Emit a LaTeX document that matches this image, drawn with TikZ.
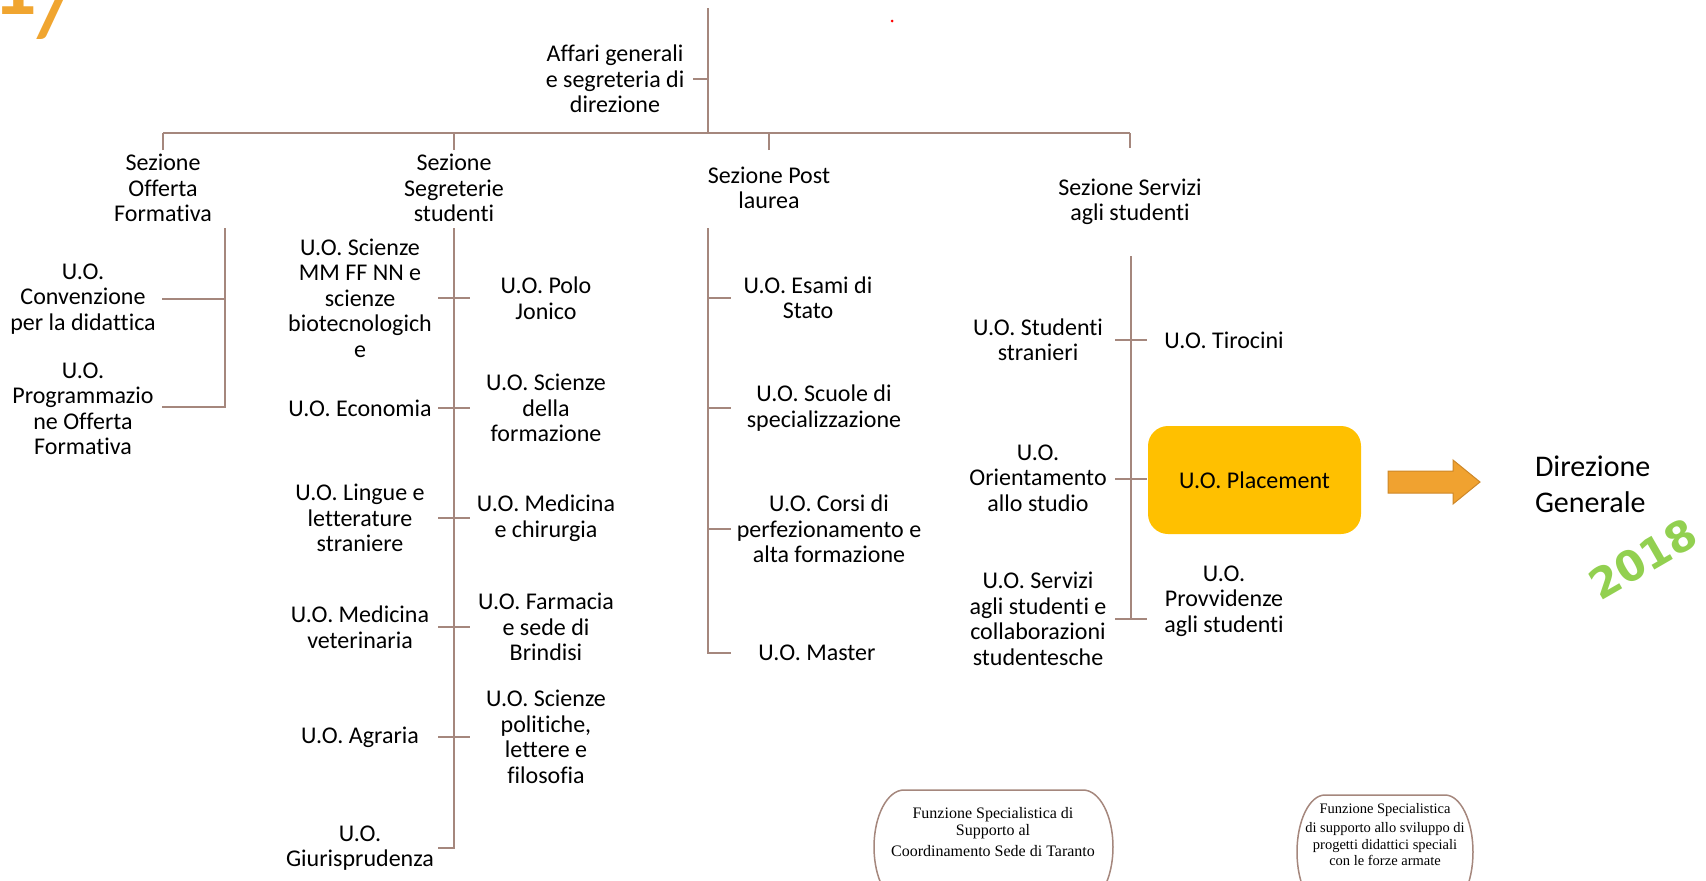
\documentclass[tikz,border=0pt]{standalone}
\usepackage{fontspec}
\setmainfont{Carlito}[Ligatures={NoCommon,NoRare}]
\newfontfamily\serifbox{Liberation Serif}
\newfontfamily\yearfont{DejaVu Sans}
\definecolor{linec}{RGB}{165,135,125}
\definecolor{placec}{RGB}{255,192,0}
\definecolor{arrowc}{RGB}{240,162,48}
\definecolor{arrowd}{RGB}{205,135,40}
\definecolor{greenc}{RGB}{146,208,80}
\definecolor{orangec}{RGB}{240,165,48}
\begin{document}
\begin{tikzpicture}[x=1pt,y=-1pt,
  every node/.style={inner sep=0pt,outer sep=0pt},
  lbl/.style={align=center,font=\fontsize{24}{25.5}\selectfont},
  conn/.style={draw=linec,line width=2pt},
  fsbox/.style={draw=linec,line width=1.5pt},
  fstext/.style={align=center,font=\serifbox\fontsize{16}{17}\selectfont}]
\useasboundingbox (0,0) rectangle (1706,881);
\clip (0,0) rectangle (1706,881);

% partial title at top-left
\node[anchor=base west,font=\bfseries\fontsize{88}{88}\selectfont,text=orangec] (ttl) at (-7,14) {1\raisebox{-0.24em}{/}};
\fill[red] (892,21) circle (1.5);

% top of the tree
\coordinate (top) at (708,8);
\coordinate (hub) at (708,133);
\coordinate (hl) at (163,133);
\coordinate (hr) at (1130,133);
\draw[conn,line width=2.5pt] (top) -- (hub);
\draw[conn] (hl) -- (hr);
\node[lbl] (aff) at (615,79) {Affari generali\\e segreteria di\\direzione};
\coordinate (affT) at (693,79);
\draw[conn] (affT) -- (affT -| top);

% sections
\node[lbl] (s1) at (163,188) {Sezione\\Offerta\\Formativa};
\node[lbl] (s2) at (454,188) {Sezione\\Segreterie\\studenti};
\node[lbl] (s3) at (769,188) {Sezione Post\\laurea};
\node[lbl] (s4) at (1130,202) {Sezione Servizi\\agli studenti};
\coordinate (d1) at (163,150);
\coordinate (d2) at (454,150);
\coordinate (d3) at (769,150);
\coordinate (d4) at (1130,148);
\draw[conn] (d1) -- (d1 |- hl);
\draw[conn] (d2) -- (d2 |- hl);
\draw[conn] (d3) -- (d3 |- hl);
\draw[conn] (d4) -- (d4 |- hl);

% Sezione Offerta Formativa
\node[lbl] (u11) at (83,299) {U.O.\\Convenzione\\per la didattica};
\node[lbl] (u12) at (83,409) {U.O.\\Programmazio\\ne Offerta\\Formativa};
\coordinate (v1t) at (225,228);
\coordinate (v1b) at (225,407);
\coordinate (t11) at (162,299);
\coordinate (t12) at (162,407);
\draw[conn] (v1t) -- (v1b) -- (t12);
\draw[conn] (t11) -- (t11 -| v1t);

% Sezione Segreterie studenti
\node[lbl] (u21) at (360,298) {U.O. Scienze\\MM FF NN e\\scienze\\biotecnologich\\e};
\node[lbl] (u22) at (360,408) {U.O. Economia};
\node[lbl] (u23) at (360,518) {U.O. Lingue e\\letterature\\straniere};
\node[lbl] (u24) at (360,627) {U.O. Medicina\\veterinaria};
\node[lbl] (u25) at (360,737) {U.O. Agraria};
\node[lbl] (u26) at (360,848) {U.O.\\Giurisprudenza};
\node[lbl] (u31) at (546,298) {U.O. Polo\\Jonico};
\node[lbl] (u32) at (546,408) {U.O. Scienze\\della\\formazione};
\node[lbl] (u33) at (546,518) {U.O. Medicina\\e chirurgia};
\node[lbl] (u34) at (546,627) {U.O. Farmacia\\e sede di\\Brindisi};
\node[lbl] (u35) at (546,737) {U.O. Scienze\\politiche,\\lettere e\\filosofia};
\coordinate (v2t) at (454,228);
\coordinate (v2b) at (454,848);
\draw[conn] (v2t) -- (v2b) -- (438,848);
\foreach \y in {298,408,518,627,737}{
  \draw[conn] (438,\y) -- (470,\y);
}

% Sezione Post laurea
\node[lbl] (u41) at (808,298) {U.O. Esami di\\Stato};
\node[lbl] (u42) at (824,408) {U.O. Scuole di\\specializzazione};
\node[lbl] (u43) at (829,529) {U.O. Corsi di\\perfezionamento e\\alta formazione};
\node[lbl] (u44) at (817,653) {U.O. Master};
\coordinate (v3t) at (708,228);
\coordinate (v3b) at (708,653);
\draw[conn] (v3t) -- (v3b) -- (731,653);
\foreach \y in {298,408,529}{
  \draw[conn] (708,\y) -- (731,\y);
}

% Sezione Servizi agli studenti
\node[lbl] (u51) at (1038,340) {U.O. Studenti\\stranieri};
\node[lbl] (u52) at (1038,478) {U.O.\\Orientamento\\allo studio};
\node[lbl] (u53) at (1038,619) {U.O. Servizi\\agli studenti e\\collaborazioni\\studentesche};
\node[lbl] (u61) at (1224,340) {U.O. Tirocini};
\node[lbl,fill=placec,rounded corners=20pt,minimum width=213pt,minimum height=108pt] (u62) at (1254.5,480) {U.O. Placement};
\node[lbl] (u63) at (1224,601) {U.O.\\Provvidenze\\agli studenti};
\coordinate (v4t) at (1131,256);
\coordinate (v4b) at (1131,619);
\draw[conn] (v4t) -- (v4b);
\foreach \y in {340,479,619}{
  \draw[conn] (1115,\y) -- (1147,\y);
}

% block arrow and Direzione Generale
\draw[fill=arrowc,draw=arrowd,line width=1pt,line join=miter]
  (1388,471) -- (1453,471) -- (1453,460) -- (1480,482) -- (1453,504) -- (1453,493) -- (1388,493) -- cycle;
\node[anchor=west,align=left,font=\fontsize{30}{36}\selectfont] (dg) at (1535,484) {Direzione\\Generale};
\node[rotate=30,font=\yearfont\bfseries\fontsize{42}{42}\selectfont,text=greenc] (yr) at (1643,559) {2018};

% bottom boxes
\draw[fsbox] (904,790) -- (1083,790) arc[start angle=-90,end angle=90,x radius=30,y radius=57]
  -- (904,904) arc[start angle=90,end angle=270,x radius=30,y radius=57] -- cycle;
\node[fstext,anchor=north] (f1) at (993,807) {Funzione Specialistica di\\Supporto al\\[4pt]Coordinamento Sede di Taranto};
\draw[fsbox] (1325,795) -- (1445,795) arc[start angle=-90,end angle=90,x radius=28,y radius=57]
  -- (1325,909) arc[start angle=90,end angle=270,x radius=28,y radius=57] -- cycle;
\node[fstext,anchor=north,font=\serifbox\fontsize{14.5}{16.5}\selectfont] (f2) at (1385,803) {Funzione Specialistica\\[3pt]di supporto allo sviluppo di\\progetti didattici speciali\\con le forze armate};
\end{tikzpicture}
\end{document}
